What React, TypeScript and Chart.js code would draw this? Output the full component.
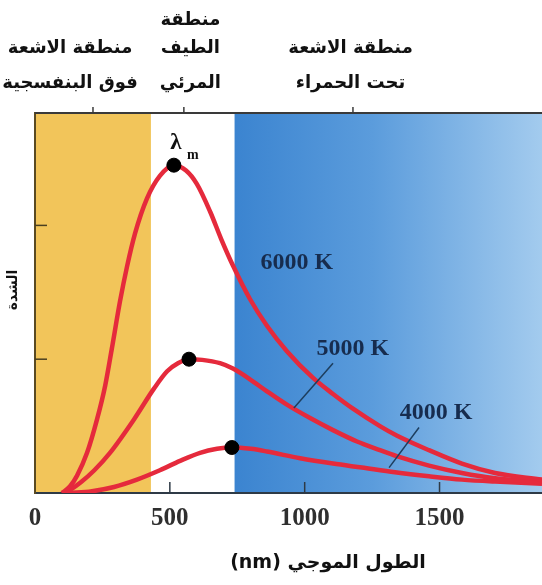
import React, { useEffect, useRef } from 'react';
import { Chart, registerables } from 'chart.js';

Chart.register(...registerables);

// ---- data (wavelength in nm, relative intensity) ----
const wl6000 = [100, 130, 156, 193, 230, 260, 285, 315, 341, 371, 415, 463, 515, 560, 600, 650, 690, 734, 797, 860, 934, 1031, 1105, 1179, 1279, 1341, 1461, 1583, 1706, 1880];
const in6000 = [0.0, 0.05, 0.13, 0.30, 0.55, 0.80, 1.08, 1.43, 1.69, 1.94, 2.20, 2.37, 2.45, 2.41, 2.31, 2.10, 1.90, 1.70, 1.45, 1.25, 1.06, 0.86, 0.74, 0.63, 0.50, 0.43, 0.32, 0.22, 0.15, 0.10];

const wl5000 = [100, 135, 170, 220, 278, 367, 441, 490, 530, 571, 620, 686, 734, 797, 860, 934, 1020, 1105, 1194, 1279, 1341, 1461, 1583, 1706, 1880];
const in5000 = [0.0, 0.03, 0.08, 0.17, 0.30, 0.55, 0.78, 0.91, 0.97, 1.00, 0.995, 0.97, 0.93, 0.85, 0.76, 0.66, 0.56, 0.47, 0.385, 0.32, 0.275, 0.205, 0.15, 0.11, 0.08];

const wl4000 = [100, 200, 293, 378, 463, 538, 612, 675, 730, 800, 860, 983, 1105, 1212, 1335, 1461, 1583, 1706, 1880];
const in4000 = [0.0, 0.01, 0.045, 0.10, 0.17, 0.24, 0.30, 0.33, 0.34, 0.33, 0.31, 0.26, 0.22, 0.19, 0.155, 0.125, 0.10, 0.085, 0.07];

const peakWl = [515, 571, 730];
const peakIn = [2.45, 1.0, 0.34];

const tempLabels = ['6000 K', '5000 K', '4000 K'];
const tempLabelWl = [971, 1179, 1487];
const tempLabelIn = [1.72, 1.08, 0.6];
// leader lines [fromWl, fromIn, toWl, toIn]
const leaders = [
  [1105, 0.97, 960, 0.635],
  [1424, 0.49, 1313, 0.19],
];

const regionBounds = [0, 430, 740, 1880];
const regionNames = [
  ['منطقة الاشعة', 'فوق البنفسجية'],
  ['منطقة', 'الطيف', 'المرئي'],
  ['منطقة الاشعة', 'تحت الحمراء'],
];
const regionNameWl = [130, 576, 1170];
const topMarkWl = [215, 552, 1179];

const xTickValues = [0, 500, 1000, 1500];
const xMin = 0;
const xMax = 1880;
const yMax = 2.84;
const yTickValues = [1, 2];
const xTitle = '(nm) الطول الموجي';
const yTitle = 'الشدة';
const peakLabel = 'λ';
const peakSub = 'm';

const toPts = (xs: number[], ys: number[]) => xs.map((x, i) => ({ x, y: ys[i] }));

const RED = '#e52a3c';
const ARABIC = '"DejaVu Sans", sans-serif';
const SERIF = '"Liberation Serif", "Times New Roman", serif';
const LINE_OFFSETS = [-93, -65, -30];

const decorPlugin = {
  id: 'decor',
  beforeDraw(chart: any) {
    const { ctx, chartArea: a, scales } = chart;
    const xs = scales.x;
    const px = regionBounds.map((v) => Math.max(a.left, Math.min(a.right, xs.getPixelForValue(v))));
    ctx.save();
    ctx.fillStyle = '#f2c55a';
    ctx.fillRect(px[0], a.top, px[1] - px[0], a.bottom - a.top);
    ctx.fillStyle = '#ffffff';
    ctx.fillRect(px[1], a.top, px[2] - px[1], a.bottom - a.top);
    const g = ctx.createLinearGradient(px[2], 0, px[3], 0);
    g.addColorStop(0, '#3b84d0');
    g.addColorStop(0.45, '#5b9cdc');
    g.addColorStop(1, '#a3cbee');
    ctx.fillStyle = g;
    ctx.fillRect(px[2], a.top, px[3] - px[2], a.bottom - a.top);
    ctx.restore();
  },
  afterDatasetsDraw(chart: any) {
    const { ctx, chartArea: a, scales } = chart;
    const xs = scales.x;
    const ys = scales.y;
    ctx.save();
    // top border
    ctx.strokeStyle = '#3a3a3a';
    ctx.lineWidth = 2;
    ctx.beginPath();
    ctx.moveTo(a.left, a.top);
    ctx.lineTo(a.right, a.top);
    ctx.stroke();
    // top marks
    ctx.lineWidth = 1.5;
    topMarkWl.forEach((w) => {
      const x = xs.getPixelForValue(w);
      ctx.beginPath();
      ctx.moveTo(x, a.top);
      ctx.lineTo(x, a.top - 6);
      ctx.stroke();
    });
    // x inner ticks
    ctx.strokeStyle = '#2e3a46';
    ctx.lineWidth = 1.5;
    xTickValues.forEach((v) => {
      if (v <= xMin) return;
      const x = xs.getPixelForValue(v);
      ctx.beginPath();
      ctx.moveTo(x, a.bottom);
      ctx.lineTo(x, a.bottom - 11);
      ctx.stroke();
    });
    // y inner ticks
    ctx.strokeStyle = '#4a3f20';
    yTickValues.forEach((v) => {
      const y = ys.getPixelForValue(v);
      ctx.beginPath();
      ctx.moveTo(a.left, y);
      ctx.lineTo(a.left + 12, y);
      ctx.stroke();
    });
    // leaders
    ctx.strokeStyle = '#1d3e5e';
    ctx.lineWidth = 1.5;
    leaders.forEach((l) => {
      ctx.beginPath();
      ctx.moveTo(xs.getPixelForValue(l[0]), ys.getPixelForValue(l[1]));
      ctx.lineTo(xs.getPixelForValue(l[2]), ys.getPixelForValue(l[3]));
      ctx.stroke();
    });
    // temperature labels
    ctx.fillStyle = '#172c4e';
    ctx.font = `bold 24px ${SERIF}`;
    ctx.textAlign = 'center';
    ctx.textBaseline = 'middle';
    tempLabels.forEach((t, i) => {
      ctx.fillText(t, xs.getPixelForValue(tempLabelWl[i]), ys.getPixelForValue(tempLabelIn[i]));
    });
    // lambda_m
    const px0 = xs.getPixelForValue(peakWl[0]);
    const py0 = ys.getPixelForValue(peakIn[0]);
    ctx.fillStyle = '#111';
    ctx.font = `bold 23px ${SERIF}`;
    ctx.fillText(peakLabel, px0 + 2, py0 - 22);
    ctx.font = `bold 14px ${SERIF}`;
    ctx.fillText(peakSub, px0 + 19, py0 - 10);
    // region names
    ctx.direction = 'rtl';
    ctx.fillStyle = '#111';
    ctx.font = `bold 18px ${ARABIC}`;
    regionNames.forEach((lines, i) => {
      const x = xs.getPixelForValue(regionNameWl[i]);
      const offs = LINE_OFFSETS.slice(LINE_OFFSETS.length - lines.length);
      lines.forEach((s, j) => {
        ctx.fillText(s, x, a.top + offs[j]);
      });
    });
    ctx.direction = 'ltr';
    // x title
    ctx.font = `bold 19px ${ARABIC}`;
    ctx.fillText(xTitle, 328, a.bottom + 70);
    // y title
    ctx.translate(13, (a.top + a.bottom) / 2 - 13);
    ctx.rotate(-Math.PI / 2);
    ctx.font = `bold 14px ${ARABIC}`;
    ctx.direction = 'rtl';
    ctx.fillText(yTitle, 0, 0);
    ctx.restore();
  },
};

export default function App() {
  const ref = useRef<HTMLCanvasElement | null>(null);
  useEffect(() => {
    if (!ref.current) return;
    const line = (d: any) => ({
      data: d,
      borderColor: RED,
      borderWidth: 4.5,
      pointRadius: 0,
      fill: false,
      cubicInterpolationMode: 'monotone' as const,
      order: 2,
    });
    const chart = new Chart(ref.current, {
      type: 'line',
      data: {
        datasets: [
          {
            data: toPts(peakWl, peakIn),
            showLine: false,
            pointRadius: 7,
            pointBackgroundColor: '#000',
            pointBorderColor: '#000',
            order: 0,
          } as any,
          line(toPts(wl6000, in6000)),
          line(toPts(wl5000, in5000)),
          line(toPts(wl4000, in4000)),
        ],
      },
      plugins: [decorPlugin],
      options: {
        animation: false,
        responsive: false,
        maintainAspectRatio: false,
        layout: { autoPadding: false, padding: { top: 113, left: 35, right: 0, bottom: 40 } },
        plugins: { legend: { display: false }, tooltip: { enabled: false } },
        scales: {
          x: {
            type: 'linear',
            min: xMin,
            max: xMax,
            afterBuildTicks: (scale: any) => {
              scale.ticks = xTickValues.map((v) => ({ value: v }));
            },
            grid: { display: false, drawTicks: false },
            border: { display: true, color: '#2e3a46', width: 2 },
            ticks: {
              autoSkip: false,
              maxRotation: 0,
              padding: 11,
              color: '#2f2f2f',
              font: { family: SERIF, size: 25, weight: 'bold' },
              callback: (v: any) => String(v),
            },
          },
          y: {
            type: 'linear',
            min: 0,
            max: yMax,
            grid: { display: false, drawTicks: false },
            border: { display: true, color: '#5a4a22', width: 2 },
            ticks: { display: false },
          },
        },
      },
    });
    return () => chart.destroy();
  }, []);
  return (
    <div style={{ position: 'fixed', left: 0, top: 0, width: 542, height: 585, background: '#fff' }}>
      <canvas ref={ref} width={542} height={585} style={{ width: 542, height: 585, display: 'block' }} />
    </div>
  );
}
